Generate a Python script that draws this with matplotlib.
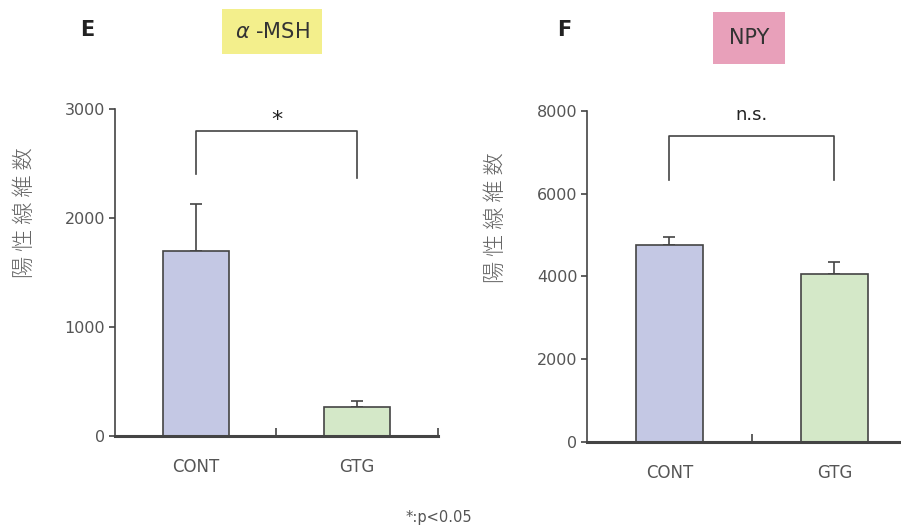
import numpy as np
import matplotlib.pyplot as plt

plt.rcParams['font.family'] = ['DejaVu Sans', 'Noto Sans CJK JP']

# データ
groups = ["CONT", "GTG"]
msh_mean = [1700, 265]
msh_err = [430, 55]
npy_mean = [4750, 4060]
npy_err = [200, 290]
bar_colors = ["#c4c8e4", "#d4e8c8"]
ylabel = "陽 性 線 維 数"

gray = "#555555"
edge = "#444444"

fig = plt.figure(figsize=(9.01, 5.29), dpi=100)

def panel(rect, means, errs, ymax, yticks, bracket, sig_text, sig_y, sig_size):
    ax = fig.add_axes(rect)
    x = np.arange(len(groups))
    ax.bar(x, means, width=0.41, color=bar_colors, edgecolor=edge, linewidth=1.2, zorder=2)
    ax.errorbar(x, means, yerr=[np.zeros(len(errs)), errs], fmt='none',
                ecolor=edge, elinewidth=1.2, capsize=4, capthick=1.2, zorder=1)
    ax.set_xlim(-0.5, 1.5)
    ax.set_ylim(0, ymax)
    ax.set_yticks(yticks)
    ax.set_xticks(x)
    ax.set_xticklabels(groups, fontsize=12, color=gray)
    ax.tick_params(axis='x', length=0, pad=16)
    ax.set_xticks([0.5, 1.5], minor=True)
    ax.tick_params(axis='x', which='minor', direction='in', length=6, width=1.2, color=edge)
    ax.tick_params(axis='y', direction='out', length=4, width=1.2, color=edge,
                   labelsize=11.5, labelcolor=gray, pad=3)
    for s in ['top', 'right']:
        ax.spines[s].set_visible(False)
    ax.spines['left'].set_color(edge)
    ax.spines['left'].set_linewidth(1.2)
    ax.spines['bottom'].set_color(edge)
    ax.spines['bottom'].set_linewidth(2.2)
    # 有意差ブラケット
    top, yl, yr = bracket
    ax.plot([0, 0, 1, 1], [yl, top, top, yr], color=edge, lw=1.2, clip_on=False)
    ax.text(0.5, sig_y, sig_text, ha='center', va='center', fontsize=sig_size, color="#222222")
    return ax

ax1 = panel([0.1276, 0.1758, 0.3585, 0.618], msh_mean, msh_err, 3000,
            [0, 1000, 2000, 3000], (2800, 2400, 2370), "*", 2900, 16)
ax2 = panel([0.6515, 0.1645, 0.366, 0.6257], npy_mean, npy_err, 8000,
            [0, 2000, 4000, 6000, 8000], (7400, 6330, 6330), "n.s.", 7900, 13)

fig.text(0.028, 0.599, ylabel, rotation=90, ha='center', va='center', fontsize=16,
         color="#666666", family=['Noto Sans CJK JP'], fontweight='light')
fig.text(0.551, 0.588, ylabel, rotation=90, ha='center', va='center', fontsize=16,
         color="#666666", family=['Noto Sans CJK JP'], fontweight='light')

# パネル見出し
fig.text(0.089, 0.943, "E", fontsize=15, fontweight='bold', ha='left', va='center', color="#222222")
fig.text(0.618, 0.943, "F", fontsize=15, fontweight='bold', ha='left', va='center', color="#222222")
fig.text(0.302, 0.94, r"$\alpha$ -MSH", fontsize=15, ha='center', va='center', color="#333333",
         bbox=dict(boxstyle='square,pad=0.6', fc="#f3ef8c", ec='none'))
fig.text(0.831, 0.928, "NPY", fontsize=15, ha='center', va='center', color="#333333",
         bbox=dict(boxstyle='square,pad=0.75', fc="#e8a0ba", ec='none'))

fig.text(0.45, 0.022, "*:p<0.05", fontsize=10.5, ha='left', va='center', color=gray)

fig.savefig("out.png", dpi=100)
